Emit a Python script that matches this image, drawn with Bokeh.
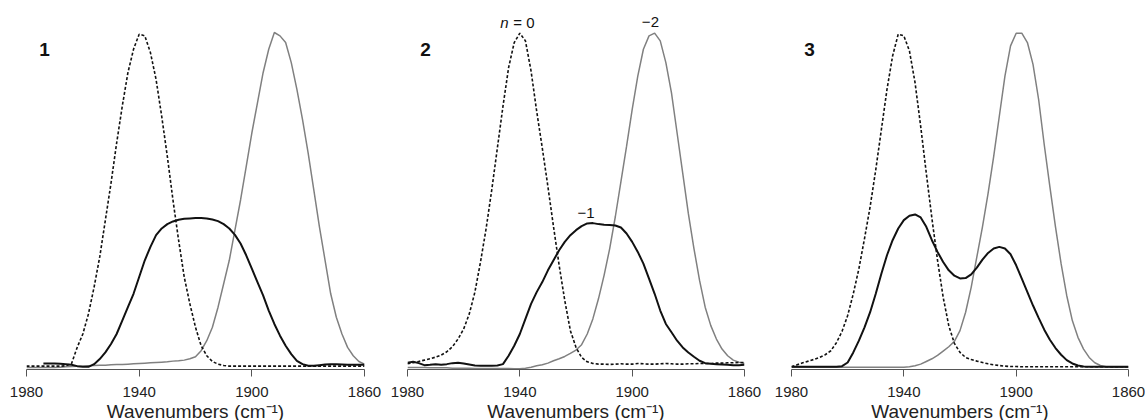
import numpy as np
from bokeh.plotting import figure
from bokeh.layouts import row
from bokeh.models import Range1d, FixedTicker
from bokeh.core.properties import value
from bokeh.embed import file_html
from bokeh.resources import INLINE

# ---------------- data ----------------
wavenumbers = list(range(1980, 1859, -2))   # 1980 ... 1860 cm-1
tick_values = [1980, 1940, 1900, 1860]
panel_labels = ["1", "2", "3"]
peak_labels = ["n", "= 0", "\u22122", "\u22121"]
nan = float("nan")

# panel 1
p1_n0 = [.004, .004, .004, .004, .004, .004, .004, .005, .012, .06,
         .10, .16, .24, .33, .44, .55, .67, .78, .88, .95,
         .995, .99, .94, .86, .75, .63, .50, .38, .27, .19,
         .12, .065, .035, .018, .010, .006, .004, .004, .004, .004,
         .004, .004, .004, .004, .004, .004, .004, .004, .004, .004,
         .004, .004, .004, .004, .004, .004, .004, .004, .004, .004,
         .004]
p1_n1 = [nan, nan, nan, .012, .012, .012, .011, .010, .008, .004,
         .002, .002, .010, .025, .045, .07, .10, .14, .18, .22,
         .27, .32, .36, .395, .415, .428, .436, .441, .444, .445,
         .446, .446, .445, .442, .437, .428, .415, .396, .37, .335,
         .295, .255, .215, .17, .13, .095, .065, .04, .02, .01,
         .005, .005, .007, .009, .010, .010, .009, .008, .008, .008,
         .008]
p1_n2 = [0, 0, 0, 0, 0, 0, .001, .002, .003, .004,
         .004, .005, .006, .007, .007, .008, .009, .009, .010, .011,
         .012, .013, .014, .015, .016, .017, .019, .020, .022, .026,
         .032, .05, .08, .12, .18, .25, .32, .41, .50, .60,
         .70, .79, .88, .95, 1.0, .99, .97, .91, .83, .74,
         .64, .53, .42, .32, .22, .15, .10, .06, .035, .018,
         .010]

# panel 2
p2_n0 = [.011, .014, .018, .022, .026, .031, .037, .047, .062, .085,
         .115, .16, .225, .315, .415, .53, .655, .78, .895, .97,
         .998, .975, .885, .765, .655, .54, .42, .305, .20, .11,
         .06, .03, .017, .012, .010, .010, .009, .010, .011, .010,
         .010, .012, .011, .010, .010, .011, .012, .011, .010, .010,
         .011, .011, .012, .012, .012, .013, .013, .014, .014, .015,
         .015]
p2_n1 = [.014, .017, .013, .007, .008, .010, .008, .010, .013, .014,
         .012, .009, .006, .005, .005, .005, .006, .010, .035, .065,
         .10, .145, .19, .225, .255, .29, .32, .35, .375, .395,
         .41, .422, .43, .431, .428, .426, .425, .424, .418, .40,
         .375, .345, .31, .265, .22, .17, .13, .105, .08, .06,
         .045, .032, .02, .013, .011, .010, .009, .008, .007, .007,
         .008]
p2_n2 = [0, 0, 0, 0, -.001, -.001, -.001, -.001, -.002, -.002,
         -.002, -.002, -.003, -.003, -.003, -.003, -.003, -.003, -.003, -.004,
         -.004, -.002, .001, .005, .008, .013, .02, .026, .033, .042,
         .052, .068, .10, .145, .205, .275, .355, .45, .555, .66,
         .77, .87, .95, .99, .998, .975, .91, .82, .70, .58,
         .46, .355, .26, .18, .125, .085, .055, .035, .022, .016,
         .012]

# panel 3
p3_n0 = [.002, .008, .014, .019, .024, .030, .038, .050, .074, .108,
         .155, .22, .295, .385, .48, .59, .71, .83, .93, .995,
         .99, .945, .85, .72, .58, .445, .32, .21, .125, .072,
         .045, .030, .024, .019, .015, .011, .008, .006, .004, .003,
         .003, .002, .002, .002, .002, .002, .002, .002, .002, .002,
         .002, .002, .002, .002, .002, .002, .002, .002, .002, .002,
         .002]
p3_n1 = [.002, .002, .002, .002, .002, .002, .002, .002, .002, .004,
         .015, .045, .08, .12, .165, .22, .28, .335, .38, .415,
         .44, .453, .457, .448, .42, .38, .345, .315, .29, .274,
         .266, .267, .278, .298, .322, .342, .355, .36, .355, .338,
         .305, .265, .225, .185, .148, .113, .083, .058, .038, .022,
         .012, .006, .003, .002, .002, .002, .002, .002, .002, .002,
         .002]
p3_n2 = [.001, .001, .001, .001, .001, .001, .001, .001, .001, .001,
         .001, .001, .001, .001, .001, .001, .001, .001, .001, .001,
         .001, .002, .005, .010, .018, .026, .036, .049, .062, .078,
         .11, .165, .24, .33, .42, .52, .63, .75, .87, .96,
         .998, .998, .97, .905, .80, .665, .54, .42, .31, .215,
         .14, .09, .055, .03, .014, .006, .002, .001, .001, .001,
         .001]

# ---------------- styling ----------------
FONT = "Liberation Sans"
FRAME_H = 359
Y0, Y1 = -0.006, 1.0657
GRAY = "#808080"
BLACK = "#111111"


def make_panel(label, n0, n1, n2, left, fw, right):
    p = figure(frame_width=fw, frame_height=FRAME_H,
               min_border_left=left, min_border_right=right,
               min_border_top=10, min_border_bottom=0,
               x_range=Range1d(1980, 1860), y_range=Range1d(Y0, Y1),
               output_backend="svg", toolbar_location=None,
               y_axis_location=None)
    p.grid.visible = False
    p.outline_line_color = None
    p.background_fill_color = "white"
    p.border_fill_color = "white"

    x = np.array(wavenumbers, dtype=float)
    p.line(x, np.array(n2, dtype=float), line_color=GRAY, line_width=1.5)
    p.line(x, np.array(n0, dtype=float), line_color=BLACK, line_width=1.6,
           line_dash="3 2")
    p.line(x, np.array(n1, dtype=float), line_color=BLACK, line_width=2.0)

    ax = p.xaxis[0]
    ax.ticker = FixedTicker(ticks=tick_values)
    ax.major_label_text_font = FONT
    ax.major_label_text_font_size = "15px"
    ax.major_label_text_color = "#222222"
    ax.major_label_standoff = 10
    ax.major_tick_out = 7
    ax.major_tick_in = 0
    ax.minor_tick_line_color = None
    ax.axis_line_color = "#555555"
    ax.major_tick_line_color = "#555555"
    ax.axis_label = "Wavenumbers (cm\u207b\u00b9)"
    ax.axis_label_text_font = FONT
    ax.axis_label_text_font_size = "19px"
    ax.axis_label_text_font_style = "normal"
    ax.axis_label_text_color = "#222222"
    ax.axis_label_standoff = 1

    p.text(x=[1975.5], y=[0.95], text=[label], text_font=value(FONT),
           text_font_size=value("19px"), text_font_style="bold",
           text_color="#111111", text_align="left", text_baseline="middle")
    return p


p1 = make_panel(panel_labels[0], p1_n0, p1_n1, p1_n2, 26, 338, 20)
p2 = make_panel(panel_labels[1], p2_n0, p2_n1, p2_n2, 23, 337, 22)
p3 = make_panel(panel_labels[2], p3_n0, p3_n1, p3_n2, 25, 337, 17)

# annotations on panel 2
p2.text(x=[1944.0], y=[1.031], text=[peak_labels[0]], text_font=value(FONT),
        text_font_size=value("15px"), text_font_style="italic",
        text_color="#111111", text_align="right", text_baseline="middle")
p2.text(x=[1942.3], y=[1.031], text=[peak_labels[1]], text_font=value(FONT),
        text_font_size=value("15px"), text_color="#111111",
        text_align="left", text_baseline="middle")
p2.text(x=[1893.5, 1916.4], y=[1.031, 0.461], text=[peak_labels[2], peak_labels[3]],
        text_font=value(FONT), text_font_size=value("15px"),
        text_color="#111111", text_align="center", text_baseline="middle")

layout = row(p1, p2, p3)
open("out.html", "w").write(file_html(layout, INLINE))
